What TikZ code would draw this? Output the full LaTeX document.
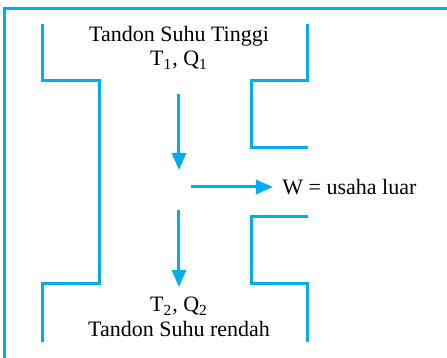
\documentclass[tikz,border=0pt]{standalone}
\usepackage{fontspec}
\setmainfont{Liberation Serif}
\usetikzlibrary{arrows.meta,positioning}
\definecolor{wallblue}{RGB}{0,174,239}

\begin{document}
\begin{tikzpicture}[x=0.5pt, y=-0.5pt,
    wall/.style={draw=wallblue, line width=1.5pt},
    flow/.style={draw=wallblue, line width=1.5pt, -{Triangle[width=7pt,length=8.5pt]}},
    lbl/.style={inner sep=0pt, font=\fontsize{11}{13}\selectfont}]

  \useasboundingbox (0,0) rectangle (447,358);

  % Outer frame
  \draw[wall] (5,358) -- (5,9) -- (447,9);

  % Reservoir walls - left side
  \draw[wall] (43,24) -- (43,81) -- (100,81) -- (100,284) -- (43,284) -- (43,342);

  % Reservoir walls - right side
  \draw[wall] (308,24) -- (308,81) -- (252,81) -- (252,148) -- (308,148);
  \draw[wall] (308,217) -- (252,217) -- (252,284) -- (308,284) -- (308,342);

  % Labels
  \node[lbl, anchor=base] (hot) at (179,42) {Tandon Suhu Tinggi};
  \node[lbl, anchor=base] (hotTQ) at (179,66) {T\textsubscript{1}, Q\textsubscript{1}};
  \node[lbl, anchor=base] (coldTQ) at (179,312) {T\textsubscript{2}, Q\textsubscript{2}};
  \node[lbl, anchor=base] (cold) at (179,337) {Tandon Suhu rendah};
  \node[lbl, anchor=base west] (work) at (282,195) {W = usaha luar};

  % Heat and work flow
  \coordinate (inA) at (179,94);
  \coordinate (outA) at (179,170);
  \coordinate (inB) at (179,210);
  \coordinate (outB) at (179,287);
  \coordinate (inW) at (191,187);
  \coordinate (outW) at (273,187);
  \draw[flow] (inA) -- (outA);
  \draw[flow] (inB) -- (outB);
  \draw[flow] (inW) -- (outW);

\end{tikzpicture}
\end{document}
